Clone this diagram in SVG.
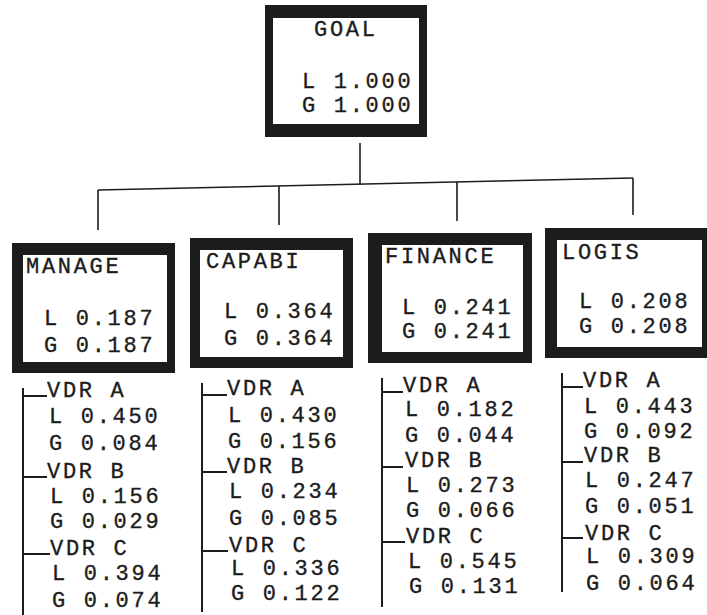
<svg xmlns="http://www.w3.org/2000/svg" width="707" height="615" viewBox="0 0 707 615">
  <style>
    .frame { fill: #1c1c1c; fill-rule: evenodd; }
    .t { font-family: "Liberation Mono", "Courier New", monospace; font-size: 22px; letter-spacing: 2.7px; fill: #1c1c1c; stroke: #1c1c1c; stroke-width: 0.35; }
    .ln { stroke: #1c1c1c; stroke-width: 1.6; fill: none; }
    .vl { stroke: #1c1c1c; stroke-width: 2; fill: none; }
  </style>
  <rect width="707" height="615" fill="#ffffff"/>

  <!-- connectors: goal to criteria, criteria to vendors -->
  <g id="connectors">
    <path class="ln" d="M360 143 L360 185"/>
    <path class="ln" d="M98 190 L633 178"/>
    <path class="ln" d="M98 190 L98 230"/>
    <path class="ln" d="M279 186 L279 225"/>
    <path class="ln" d="M457 182 L457 221"/>
    <path class="ln" d="M633 178 L633 215"/>

    <path class="vl" d="M23 388 L23 615 M23 396 L47 396 M23 477 L47 477 M23 554 L50 554"/>
    <path class="vl" d="M202 383 L202 612 M202 395 L227 395 M202 472 L227 472 M202 551 L228 551"/>
    <path class="vl" d="M382 378 L382 607 M382 392 L403 392 M382 467 L403 467 M382 542 L405 542"/>
    <path class="vl" d="M562 373 L562 592 M562 387 L583 387 M562 462 L583 462 M562 538 L583 538"/>
  </g>

  <g id="goal">
    <path class="frame" d="M265 5 H427 V137 H265 Z M273 18 V124 H419 V18 Z"/>
    <text class="t" x="314" y="36">GOAL</text>
    <text class="t" x="302" y="88">L 1.000</text>
    <text class="t" x="302" y="112">G 1.000</text>
  </g>

  <g id="manage">
    <path class="frame" d="M12 243 H175 V373 H12 Z M23 255 V362 H167 V255 Z"/>
    <text class="t" x="26" y="273">MANAGE</text>
    <text class="t" x="44" y="325">L 0.187</text>
    <text class="t" x="44" y="352">G 0.187</text>
  </g>

  <g id="capabi">
    <path class="frame" d="M190 238 H353 V368 H190 Z M200 250 V357 H343 V250 Z"/>
    <text class="t" x="206" y="268">CAPABI</text>
    <text class="t" x="224" y="318">L 0.364</text>
    <text class="t" x="224" y="345">G 0.364</text>
  </g>

  <g id="finance">
    <path class="frame" d="M368 233 H532 V363 H368 Z M382 245 V352 H523 V245 Z"/>
    <text class="t" x="385" y="263">FINANCE</text>
    <text class="t" x="402" y="314">L 0.241</text>
    <text class="t" x="402" y="338">G 0.241</text>
  </g>

  <g id="logis">
    <path class="frame" d="M545 228 H707 V358 H545 Z M557 240 V347 H702 V240 Z"/>
    <text class="t" x="562" y="259">LOGIS</text>
    <text class="t" x="579" y="308">L 0.208</text>
    <text class="t" x="579" y="333">G 0.208</text>
  </g>

  <g id="manage-vendors">
    <text class="t" x="47" y="397">VDR A</text>
    <text class="t" x="49" y="423">L 0.450</text>
    <text class="t" x="49" y="450">G 0.084</text>
    <text class="t" x="47" y="478">VDR B</text>
    <text class="t" x="50" y="503">L 0.156</text>
    <text class="t" x="50" y="528">G 0.029</text>
    <text class="t" x="50" y="555">VDR C</text>
    <text class="t" x="52" y="580">L 0.394</text>
    <text class="t" x="52" y="607">G 0.074</text>
  </g>

  <g id="capabi-vendors">
    <text class="t" x="227" y="395">VDR A</text>
    <text class="t" x="228" y="422">L 0.430</text>
    <text class="t" x="228" y="448">G 0.156</text>
    <text class="t" x="227" y="473">VDR B</text>
    <text class="t" x="229" y="498">L 0.234</text>
    <text class="t" x="229" y="525">G 0.085</text>
    <text class="t" x="229" y="552">VDR C</text>
    <text class="t" x="231" y="575">L 0.336</text>
    <text class="t" x="231" y="600">G 0.122</text>
  </g>

  <g id="finance-vendors">
    <text class="t" x="403" y="392">VDR A</text>
    <text class="t" x="405" y="416">L 0.182</text>
    <text class="t" x="405" y="442">G 0.044</text>
    <text class="t" x="405" y="467">VDR B</text>
    <text class="t" x="406" y="492">L 0.273</text>
    <text class="t" x="406" y="517">G 0.066</text>
    <text class="t" x="406" y="543">VDR C</text>
    <text class="t" x="408" y="568">L 0.545</text>
    <text class="t" x="409" y="593">G 0.131</text>
  </g>

  <g id="logis-vendors">
    <text class="t" x="583" y="387">VDR A</text>
    <text class="t" x="584" y="413">L 0.443</text>
    <text class="t" x="584" y="438">G 0.092</text>
    <text class="t" x="584" y="462">VDR B</text>
    <text class="t" x="585" y="487">L 0.247</text>
    <text class="t" x="585" y="513">G 0.051</text>
    <text class="t" x="585" y="540">VDR C</text>
    <text class="t" x="586" y="563">L 0.309</text>
    <text class="t" x="586" y="590">G 0.064</text>
  </g>
</svg>
